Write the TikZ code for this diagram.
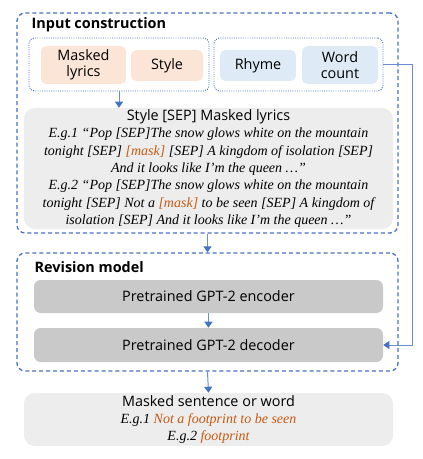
\documentclass[tikz,border=0pt]{standalone}
\usepackage{fontspec}
\setmainfont{Liberation Serif}
\setsansfont{Open Sans}
\usetikzlibrary{arrows.meta, positioning}
\definecolor{frameblue}{RGB}{68,114,196}
\definecolor{maskorange}{RGB}{197,90,17}
\definecolor{lyricpeach}{RGB}{251,229,214}
\definecolor{hintblue}{RGB}{222,235,247}
\definecolor{seqgray}{RGB}{237,237,237}
\definecolor{gptgray}{RGB}{201,201,201}
\newcommand{\msk}[1]{\textcolor{maskorange}{#1}}

\begin{document}
\begin{tikzpicture}[x=0.75pt,y=-0.75pt,
    stage/.style={draw=frameblue,line width=1pt,dash pattern=on 3pt off 2.2pt,rounded corners=6pt},
    group/.style={draw=frameblue,line width=0.7pt,densely dotted,rounded corners=4pt},
    tag/.style={rounded corners=4pt,align=center,inner sep=1pt,
          font=\sffamily\fontsize{10.8}{12}\selectfont},
    gpt/.style={fill=gptgray,rounded corners=5pt,minimum width=261.75pt,
          font=\sffamily\fontsize{10.8}{12}\selectfont},
    note/.style={fill=seqgray,rounded corners=8pt,minimum width=276.75pt,align=center,inner sep=1pt,
          font=\fontsize{10.5}{13}\selectfont\itshape},
    flow/.style={-{Triangle[width=6pt,length=4.5pt,color=frameblue]},frameblue!80,line width=0.75pt}]
    \useasboundingbox (0,0) rectangle (423,459);
    % input construction
    \node[stage,minimum width=285.75pt,minimum height=165pt] (input) at (207.5,123) {};
    \node[anchor=west,font=\sffamily\bfseries\fontsize{10.8}{12}\selectfont] (inlab) at (27,25) {Input construction};
    \node[group,minimum width=135pt,minimum height=39.75pt] (left) at (119,64.5) {};
    \node[group,minimum width=126.75pt,minimum height=39.75pt] (right) at (298.5,64.5) {};
    \node[tag,fill=lyricpeach,minimum width=63.75pt,minimum height=28.5pt] (lyrics) at (83.5,65) {Masked\\lyrics};
    \node[tag,fill=lyricpeach,minimum width=54pt,minimum height=23.25pt] (style) at (167,65.5) {Style};
    \node[tag,fill=hintblue,minimum width=57pt,minimum height=23.25pt] (rhyme) at (258,65.5) {Rhyme};
    \node[tag,fill=hintblue,minimum width=57pt,minimum height=28.5pt] (count) at (340,65) {Word\\count};
    \node[note,minimum height=90.75pt] (seq) at (208.5,168.5) {%
      {\upshape\sffamily\fontsize{10.8}{13}\selectfont Style [SEP] Masked lyrics}\\
      E.g.1 “Pop [SEP]The snow glows white on the mountain\\
      tonight [SEP] \msk{[mask]} [SEP] A kingdom of isolation [SEP]\\
      And it looks like I'm the queen …”\\
      E.g.2 “Pop [SEP]The snow glows white on the mountain\\
      tonight [SEP] Not a \msk{[mask]} to be seen [SEP] A kingdom of\\
      isolation [SEP] And it looks like I'm the queen …”};
    % revision model
    \node[stage,minimum width=285.75pt,minimum height=88.5pt] (revision) at (207.5,312) {};
    \node[anchor=west,font=\sffamily\bfseries\fontsize{10.8}{12}\selectfont] (revlab) at (30,267) {Revision model};
    \node[gpt,minimum height=24.75pt] (enc) at (208.5,296.5) {Pretrained GPT-2 encoder};
    \node[gpt,minimum height=25.5pt] (dec) at (208.5,345) {Pretrained GPT-2 decoder};
    % output
    \node[note,minimum height=39.75pt] (out) at (208.5,419.5) {%
      {\upshape\sffamily\fontsize{10.8}{13}\selectfont Masked sentence or word}\\
      E.g.1 \msk{Not a footprint to be seen}\\
      E.g.2 \msk{footprint}};
    \coordinate (turn) at (412,64.5);
    \draw[flow] (left.south) -- (left.south |- seq.north);
    \draw[flow] (input.south) -- (revision.north);
    \draw[flow] (enc) -- (dec);
    \draw[flow] (revision.south) -- (out.north);
    \draw[flow,line width=0.6pt] (right.east) -- (turn) |- (dec.east);
\end{tikzpicture}
\end{document}
